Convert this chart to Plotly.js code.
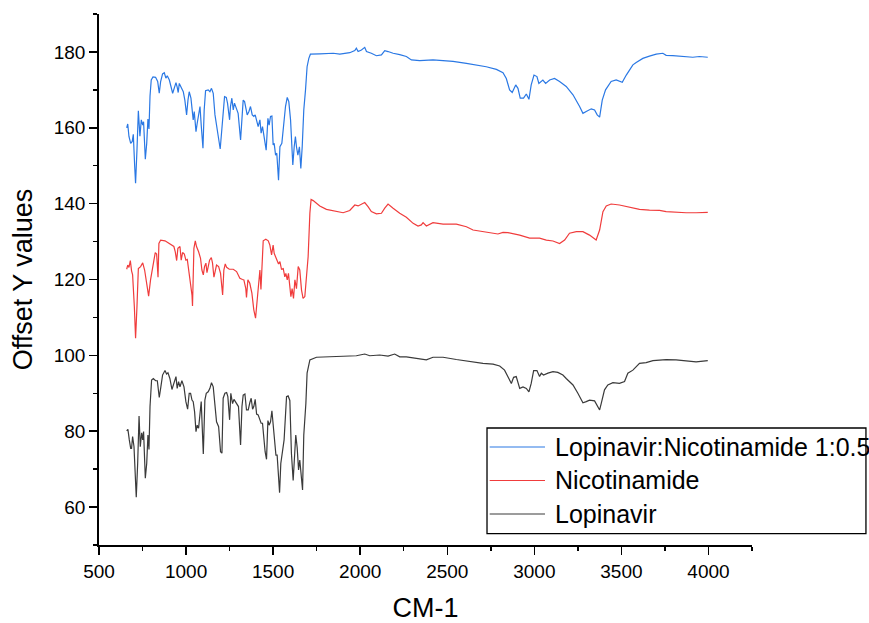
<!DOCTYPE html>
<html>
<head>
<meta charset="utf-8">
<script src="https://cdn.plot.ly/plotly-3.0.1.min.js"></script>
<style>html,body{margin:0;padding:0;background:#fff;}#chart{width:869px;height:623px;}</style>
</head>
<body>
<div id="chart"></div>
<script>
// Series names
const seriesNames = ["Lopinavir:Nicotinamide 1:0.5", "Nicotinamide", "Lopinavir"];

// Lopinavir:Nicotinamide 1:0.5 (offset +80)
const blendX = [659,665,672,682,691,697,705,710,718,726,735,743,751,756,766,774,781,787,793,800,810,825,837,846,854,865,875,884,892,904,923,942,949,955,961,974,984,993,1003,1011,1018,1028,1036,1041,1047,1057,1064,1072,1080,1087,1097,1104,1112,1127,1137,1146,1156,1166,1175,1185,1196,1204,1213,1221,1231,1238,1250,1255,1263,1271,1278,1290,1299,1313,1321,1328,1336,1343,1351,1361,1370,1380,1389,1397,1405,1414,1424,1431,1439,1451,1460,1470,1477,1485,1493,1500,1506,1514,1521,1531,1539,1550,1560,1571,1581,1590,1600,1605,1613,1621,1628,1634,1642,1651,1659,1667,1676,1686,1695,1705,1714,
  1768,1845,1883,1940,1969,1978,1988,2007,2026,2036,2064,2093,2122,2141,2160,2189,2227,2265,2294,2342,2418,2476,2533,2610,2667,2724,2782,2820,2839,2858,2873,2893,2906,2919,2938,2954,2969,2982,2998,3015,3026,3040,3049,3065,3088,3116,3145,3183,3222,3260,3279,3298,3327,3346,3361,3375,3390,3409,3441,3470,3505,3528,3547,3566,3585,3623,3661,3700,3738,3757,3795,3853,3910,3948,3996];
const blendY = [160.0,161.0,157.7,155.9,156.4,158.3,149.8,145.4,154.1,164.5,157.8,162.1,160.7,161.6,151.7,155.9,162.3,159.7,168.4,172.6,173.4,173.3,172.2,169.1,172.2,174.2,174.5,173.1,173.7,172.6,169.1,171.9,170.7,169.3,171.7,170.4,169.5,167.3,163.4,167.3,169.5,167.8,164.3,162.1,164.3,159.0,161.2,163.4,165.6,160.7,154.6,164.7,169.8,170.0,169.5,170.4,169.1,163.4,161.2,157.7,154.4,159.4,165.6,168.2,168.0,166.5,162.1,165.6,167.8,164.7,166.5,164.7,163.8,156.8,163.0,167.3,166.9,165.6,163.4,164.3,165.6,163.4,163.0,163.4,161.6,160.3,162.1,158.6,160.3,155.9,154.1,162.5,160.7,163.0,163.1,155.5,155.9,152.8,153.3,146.2,155.0,155.9,160.3,165.6,168.0,166.9,162.1,155.9,150.2,155.0,157.7,155.0,152.8,155.0,149.3,155.0,164.7,170.0,176.1,178.3,179.4,
  179.5,179.65,179.4,179.8,180.35,180.97,180.1,180.5,181.2,180.1,179.65,179.0,179.2,180.35,180.1,179.65,179.3,178.8,177.9,177.7,177.9,177.7,177.5,177.0,176.6,176.1,175.4,174.55,173.0,170.0,169.3,171.3,170.4,167.8,167.8,168.9,167.5,171.3,173.9,173.5,171.7,172.4,172.6,171.7,172.6,173.0,172.2,170.9,168.7,165.6,163.8,164.3,165.0,164.7,163.4,162.8,167.3,170.0,172.2,172.6,172.0,173.9,175.3,176.6,177.2,178.3,178.9,179.4,179.65,179.1,179.0,178.8,178.6,178.8,178.6];

// Nicotinamide (offset +40)
const nicX = [659,665,672,680,687,693,703,710,718,726,739,751,762,774,785,796,812,823,831,839,844,854,879,907,930,938,946,953,965,972,980,990,999,1007,1015,1022,1034,1037,1045,1053,1060,1072,1083,1091,1099,1106,1114,1120,1127,1135,1145,1152,1160,1168,1175,1187,1198,1210,1217,1225,1233,1248,1271,1290,1309,1324,1332,1343,1347,1355,1366,1378,1389,1399,1408,1416,1424,1430,1435,1443,1458,1472,1481,1491,1500,1506,1514,1523,1531,1539,1548,1558,1567,1573,1581,1588,1596,1602,1609,1617,1625,1634,1644,1653,1663,1672,1682,1692,1701,1711,1718,1730,
  1768,1806,1845,1902,1940,1969,1988,2007,2026,2045,2064,2093,2122,2141,2160,2189,2227,2265,2304,2332,2351,2361,2380,2418,2476,2552,2610,2648,2705,2763,2791,2820,2849,2916,2973,3030,3069,3107,3145,3174,3202,3241,3279,3317,3346,3355,3375,3394,3413,3441,3489,3547,3604,3661,3719,3757,3814,3872,3929,3996];
const nicY = [122.7,123.8,123.2,125.0,122.3,121.2,112.8,104.5,112.8,122.9,123.4,124.4,122.5,119.0,115.6,119.9,124.7,127.1,126.7,120.6,129.5,130.4,130.2,129.5,128.7,127.3,125.0,128.2,128.7,125.1,127.1,126.7,125.1,125.3,122.5,119.9,115.9,113.0,128.2,130.2,128.7,127.3,125.6,122.5,121.2,123.4,124.3,121.8,123.2,125.1,125.8,124.3,120.6,122.5,123.8,123.4,121.6,115.9,122.5,124.1,123.2,122.7,122.7,122.1,120.3,120.0,119.9,117.6,115.3,119.9,119.0,116.4,112.0,109.8,114.6,119.9,122.5,117.4,122.5,130.2,130.6,130.2,129.1,126.5,129.1,126.9,126.0,125.1,124.1,124.7,122.7,122.9,120.7,121.6,119.9,121.6,118.3,115.5,117.6,115.0,119.9,117.6,123.4,122.5,117.2,115.0,115.5,121.6,126.0,137.5,141.1,140.8,
  139.4,138.5,138.2,137.6,138.2,139.65,139.4,139.9,140.3,139.2,137.9,137.3,137.45,138.8,139.9,138.8,137.45,136.4,134.8,134.1,134.4,135.0,134.1,135.0,134.6,134.6,133.9,133.05,132.6,132.2,132.0,132.4,132.35,131.7,130.9,130.9,130.4,130.15,129.5,130.4,132.2,132.6,132.6,131.7,130.6,130.4,133.05,137.9,139.4,139.9,139.65,139.0,138.5,138.3,138.2,137.9,137.7,137.6,137.6,137.7];

// Lopinavir
const lopX = [659,666,674,682,687,693,701,707,714,722,730,737,745,751,756,766,774,781,787,793,802,812,825,835,846,854,865,879,888,896,907,919,930,942,949,957,965,976,988,999,1009,1018,1026,1034,1041,1049,1057,1064,1072,1080,1087,1099,1108,1116,1127,1137,1146,1156,1166,1175,1187,1198,1206,1213,1223,1233,1240,1250,1257,1267,1275,1282,1292,1301,1313,1321,1328,1338,1347,1357,1366,1374,1382,1389,1397,1405,1414,1424,1431,1439,1447,1454,1462,1470,1477,1485,1493,1500,1508,1516,1523,1531,1537,1544,1554,1563,1577,1586,1596,1605,1615,1625,1630,1638,1646,1653,1661,1669,1676,1688,1695,
  1711,1749,1806,1864,1921,1978,2026,2055,2112,2160,2198,2227,2265,2313,2380,2418,2476,2552,2629,2705,2763,2801,2829,2849,2868,2881,2896,2916,2935,2954,2969,2982,2996,3015,3030,3040,3053,3078,3107,3135,3164,3183,3222,3250,3279,3298,3317,3346,3361,3375,3384,3403,3422,3451,3489,3518,3537,3566,3604,3642,3681,3719,3757,3814,3872,3929,3996];
const lopY = [80.1,80.5,77.7,75.5,75.5,78.6,75.9,70.2,62.6,71.5,84.0,75.9,79.6,77.7,79.9,67.6,71.5,79.0,75.2,86.5,93.5,93.9,93.3,93.3,88.9,91.3,94.8,96.0,95.1,95.4,93.9,91.0,92.6,94.4,91.3,93.1,91.7,93.3,91.7,87.8,85.8,90.0,90.0,88.2,87.8,85.1,79.9,81.6,80.8,84.7,87.8,74.0,88.2,90.0,90.4,91.3,92.8,91.7,87.3,82.5,81.2,74.6,74.2,88.7,90.0,90.2,89.1,83.0,90.0,87.3,88.4,87.8,87.3,86.5,76.4,86.5,89.5,89.8,85.6,85.6,87.5,88.7,85.8,86.5,88.4,84.5,84.3,82.8,82.1,82.1,77.7,74.6,72.6,82.8,81.6,82.5,85.4,81.2,75.9,73.7,73.7,68.4,63.8,71.5,74.2,77.7,89.1,89.3,88.1,74.2,67.0,73.3,79.0,75.7,69.8,72.4,67.6,64.5,79.0,87.3,95.3,
  98.8,99.5,99.6,99.8,99.9,99.9,100.35,99.9,100.1,99.8,100.35,99.6,99.6,99.2,98.8,99.5,99.5,98.9,98.3,97.9,97.7,97.2,96.1,94.4,92.6,94.2,94.4,91.3,91.7,91.3,90.4,92.6,96.0,96.0,94.4,95.3,94.8,95.3,95.7,95.5,94.8,93.9,92.2,90.0,87.5,87.8,88.2,88.0,86.9,85.6,87.3,90.9,92.2,92.8,92.6,93.1,95.3,96.1,97.9,98.1,98.6,98.8,98.9,98.8,98.6,98.3,98.6];

const xTickVals = [500,1000,1500,2000,2500,3000,3500,4000];
const yTickVals = [60,80,100,120,140,160,180];

const colors = ["#2a78e4", "#f03c3c", "#3a3a3a"];

const traces = [
  {x: blendX, y: blendY, name: seriesNames[0], type: "scatter", mode: "lines", line: {color: colors[0], width: 1.2}},
  {x: nicX, y: nicY, name: seriesNames[1], type: "scatter", mode: "lines", line: {color: colors[1], width: 1.2}},
  {x: lopX, y: lopY, name: seriesNames[2], type: "scatter", mode: "lines", line: {color: colors[2], width: 1.2}}
];

const tickFont = {family: "'Liberation Sans', Arial, sans-serif", size: 19, color: "#000"};
const titleFont = {family: "'Liberation Sans', Arial, sans-serif", size: 27, color: "#000"};

// Legend box (drawn in paper coordinates, outside the plot area like the original)
const legendBox = {x0: 0.5942, x1: 1.1745, y0: 0.0216, y1: 0.2203};
const legendRowsY = [0.1846, 0.1215, 0.0584];
const legendLineX = [0.5983, 0.6830];
const legendTextX = 0.6953;

const shapes = [
  {type: "rect", xref: "paper", yref: "paper", x0: legendBox.x0, x1: legendBox.x1, y0: legendBox.y0, y1: legendBox.y1,
   line: {color: "#000", width: 1.3}, fillcolor: "rgba(255,255,255,1)", layer: "above"}
];
const annotations = [];
seriesNames.forEach((name, i) => {
  shapes.push({type: "line", xref: "paper", yref: "paper", x0: legendLineX[0], x1: legendLineX[1],
    y0: legendRowsY[i], y1: legendRowsY[i], line: {color: colors[i], width: 1.2}, layer: "above"});
  annotations.push({xref: "paper", yref: "paper", x: legendTextX, y: legendRowsY[i], xanchor: "left", yanchor: "middle",
    text: name, showarrow: false, font: {family: "'Liberation Sans', Arial, sans-serif", size: 25, color: "#000"}});
});

const layout = {
  width: 869, height: 623,
  margin: {l: 99, r: 117, t: 14, b: 78, autoexpand: false},
  paper_bgcolor: "#fff", plot_bgcolor: "#fff",
  showlegend: false,
  xaxis: {
    range: [500, 4250], tickvals: xTickVals, ticktext: xTickVals.map(String),
    showgrid: false, zeroline: false, showline: true, linecolor: "#000", linewidth: 1.8,
    ticks: "outside", ticklen: 8, tickwidth: 1.5, tickcolor: "#000",
    minor: {dtick: 250, tick0: 500, ticks: "outside", ticklen: 4, tickwidth: 1.5, tickcolor: "#000", showgrid: false},
    tickfont: tickFont, automargin: false,
    title: {text: "CM-1", font: titleFont, standoff: 23}
  },
  yaxis: {
    range: [50, 190], tickvals: yTickVals, ticktext: yTickVals.map(String),
    showgrid: false, zeroline: false, showline: true, linecolor: "#000", linewidth: 1.8,
    ticks: "outside", ticklen: 8, tickwidth: 1.5, tickcolor: "#000",
    minor: {dtick: 10, tick0: 50, ticks: "outside", ticklen: 4, tickwidth: 1.5, tickcolor: "#000", showgrid: false},
    tickfont: tickFont, automargin: false,
    title: {text: "Offset Y values", font: titleFont, standoff: 13}
  },
  shapes: shapes,
  annotations: annotations
};

Plotly.newPlot("chart", traces, layout, {staticPlot: true, displayModeBar: false});
</script>
</body>
</html>
